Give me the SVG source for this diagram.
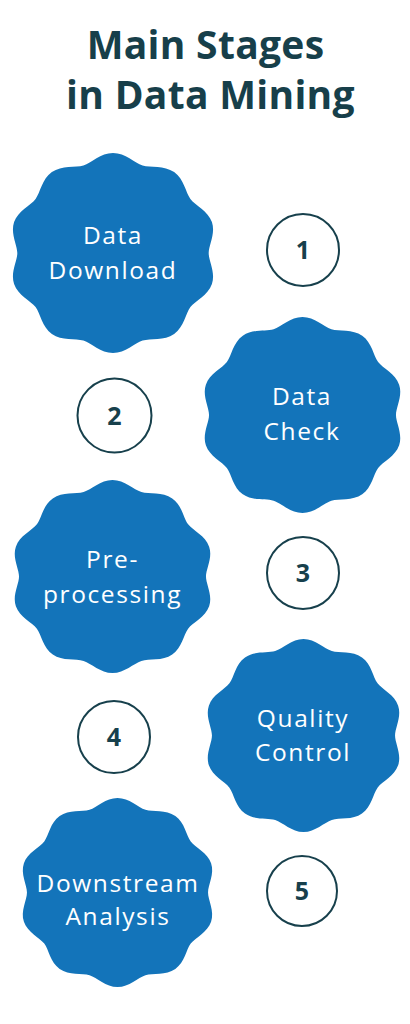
<svg xmlns="http://www.w3.org/2000/svg" xmlns:xlink="http://www.w3.org/1999/xlink" width="410" height="1024" viewBox="0 0 410 1024">
<style>
.title{font-family:"Open Sans","Liberation Sans",sans-serif;font-weight:700;font-size:39px;letter-spacing:0.3px;fill:#173F4A;text-anchor:middle}
.blob{fill:#1374BA}
.lbl{font-family:"Open Sans","Liberation Sans",sans-serif;font-weight:400;font-size:24.5px;letter-spacing:1.6px;fill:#FFFFFF;text-anchor:middle}
.ring{fill:#FFFFFF;stroke:#17404C;stroke-width:2}
.num{font-family:"Open Sans","Liberation Sans",sans-serif;font-weight:700;font-size:25px;fill:#17404C;text-anchor:middle}
</style>
<defs>
<path id="wave" d="M0,-100 C12,-100 20.82,-89.97 28.43,-87.5 C36.04,-85.03 49.07,-87.95 58.78,-80.9 C68.49,-73.850 69.73,-60.55 74.43,-54.08 C79.13,-47.61 91.4,-42.31 95.11,-30.9 C98.82,-19.49 92,-8 92,0 C92,8 98.82,19.49 95.11,30.9 C91.4,42.31 79.13,47.61 74.43,54.08 C69.73,60.55 68.49,73.85 58.78,80.9 C49.07,87.95 36.04,85.03 28.43,87.5 C20.82,89.97 12,100 0,100 C-12,100 -20.82,89.97 -28.43,87.5 C-36.04,85.03 -49.07,87.95 -58.78,80.9 C-68.49,73.85 -69.73,60.55 -74.43,54.08 C-79.13,47.61 -91.4,42.31 -95.11,30.9 C-98.82,19.49 -92,8 -92,0 C-92,-8 -98.82,-19.49 -95.11,-30.9 C-91.4,-42.31 -79.13,-47.61 -74.43,-54.08 C-69.73,-60.55 -68.49,-73.85 -58.78,-80.9 C-49.07,-87.95 -36.04,-85.03 -28.43,-87.5 C-20.82,-89.97 -12,-100 0,-100 Z"/>
</defs>
<g id="title">
<text class="title" x="205.5" y="59">Main Stages</text>
<text class="title" x="210.5" y="109">in Data Mining</text>
</g>
<g id="connectors"></g>
<g id="stage1">
<use xlink:href="#wave" class="blob" transform="translate(113,253) scale(1.04,1)"/>
<text class="lbl" x="113" y="244">Data</text>
<text class="lbl" x="113" y="279">Download</text>
</g>
<g id="num1">
<circle class="ring" cx="303" cy="250" r="36"/>
<text class="num" x="303" y="259">1</text>
</g>
<g id="stage2">
<use xlink:href="#wave" class="blob" transform="translate(302.5,415) scale(1.016,0.98)"/>
<text class="lbl" x="302" y="405">Data</text>
<text class="lbl" x="302" y="440">Check</text>
</g>
<g id="num2">
<circle class="ring" cx="114.5" cy="415.5" r="37"/>
<text class="num" x="114.5" y="424.5">2</text>
</g>
<g id="stage3">
<use xlink:href="#wave" class="blob" transform="translate(112.5,576.5) scale(1.016,0.965)"/>
<text class="lbl" x="112.5" y="568">Pre-</text>
<text class="lbl" x="112.5" y="603">processing</text>
</g>
<g id="num3">
<circle class="ring" cx="303" cy="573" r="36"/>
<text class="num" x="303" y="582">3</text>
</g>
<g id="stage4">
<use xlink:href="#wave" class="blob" transform="translate(303.5,735.5) scale(0.995,0.965)"/>
<text class="lbl" x="303" y="727">Quality</text>
<text class="lbl" x="303" y="761">Control</text>
</g>
<g id="num4">
<circle class="ring" cx="114" cy="737" r="36"/>
<text class="num" x="114" y="746">4</text>
</g>
<g id="stage5">
<use xlink:href="#wave" class="blob" transform="translate(117.5,892.5) scale(0.984,0.945)"/>
<text class="lbl" x="118" y="892">Downstream</text>
<text class="lbl" x="118" y="925">Analysis</text>
</g>
<g id="num5">
<circle class="ring" cx="302" cy="891" r="35"/>
<text class="num" x="302" y="900">5</text>
</g>
</svg>
